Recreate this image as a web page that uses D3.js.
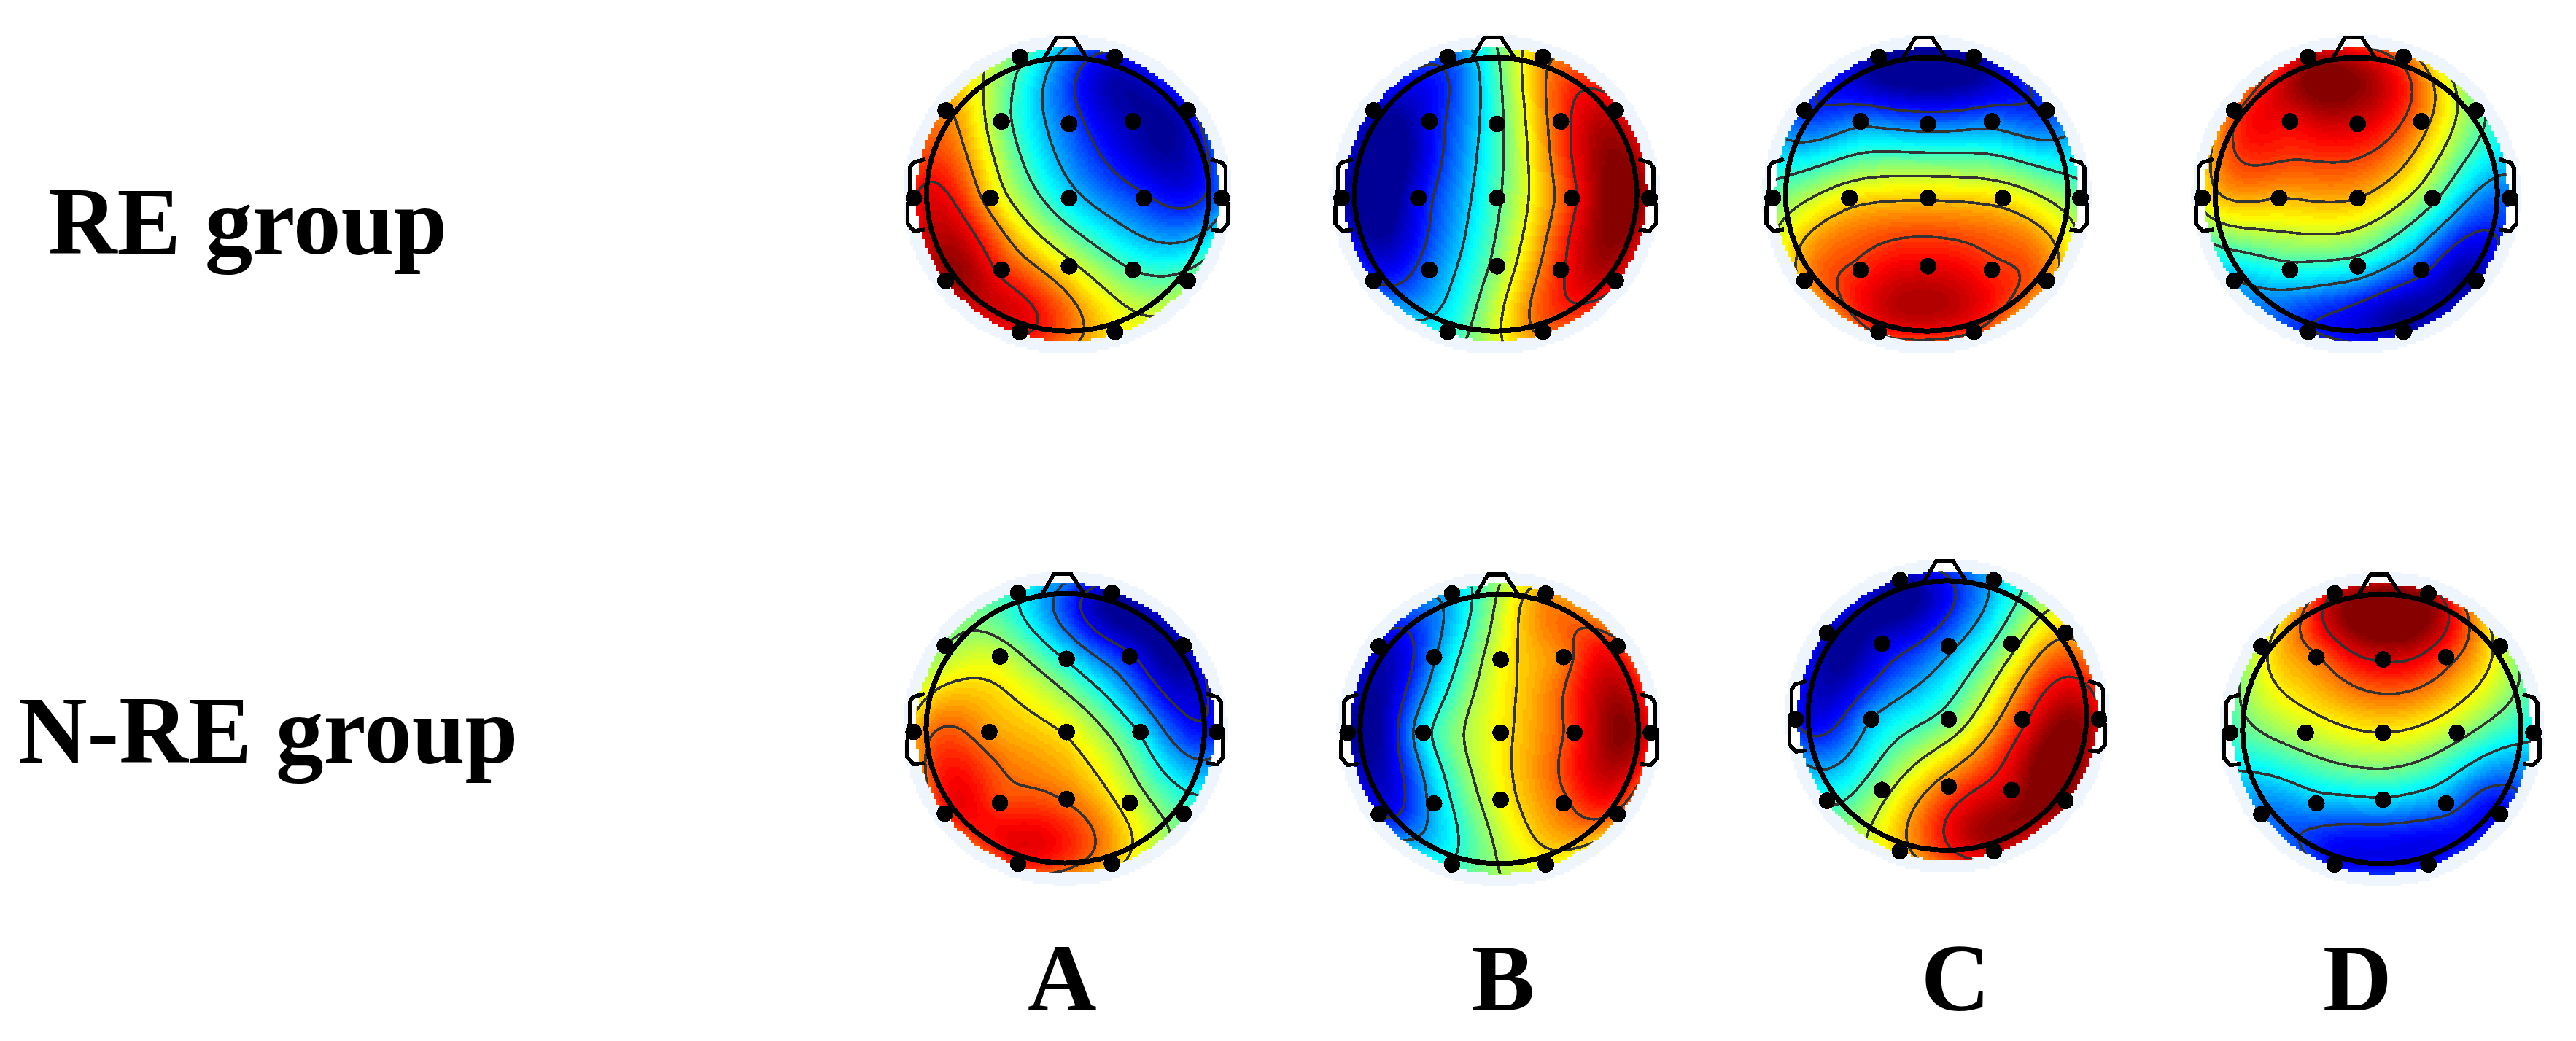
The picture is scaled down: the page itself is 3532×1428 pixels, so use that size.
<!DOCTYPE html>
<html><head><meta charset="utf-8">
<script src="https://cdnjs.cloudflare.com/ajax/libs/d3/7.8.5/d3.min.js"></script>
<style>
html,body{margin:0;padding:0;background:#fff;}
#page{position:relative;width:3532px;height:1428px;overflow:hidden;background:#fff;}
canvas{position:absolute;image-rendering:pixelated;}
svg{position:absolute;left:0;top:0;}
</style></head><body><div id="page"></div>
<script>
// Electrode montage (10-20), in head-ring units
const electrodes = ["Fp1","Fp2","F7","F3","Fz","F4","F8","T3","C3","Cz","C4","T4","T5","P3","Pz","P4","T6","O1","O2"];
const electrodeX = [-.34,.335,-.865,-.469,.01,.462,.85,-1.09,-.547,.01,.54,1.09,-.865,-.469,.01,.462,.85,-.34,.335];
const electrodeY = [-1.005,-1.005,-.614,-.534,-.516,-.534,-.614,.027,.027,.027,.027,.027,.632,.552,.525,.552,.632,1.005,1.005];
// Values at each electrode, read as position on the colour scale (0 = dark blue, 1 = dark red)
const reA  = [.45,.10,.72,.48,.20,.03,.10,.85,.66,.33,.16,.24,.95,.83,.60,.43,.48,.87,.63];
const reB  = [.20,.70,.06,.10,.42,.80,.90,.05,.10,.44,.82,.93,.16,.22,.50,.83,.89,.39,.75];
const reC  = [.02,.02,.16,.24,.22,.23,.17,.46,.63,.66,.63,.46,.70,.82,.88,.82,.72,.82,.80];
const reD  = [.92,.75,.77,.87,.90,.72,.47,.60,.68,.68,.46,.22,.28,.39,.37,.16,.03,.14,.03];
const nreA = [.38,.03,.50,.56,.36,.12,.03,.67,.71,.62,.36,.15,.82,.80,.75,.58,.44,.83,.67];
const nreB = [.30,.70,.07,.25,.60,.74,.82,.03,.34,.62,.82,.86,.12,.30,.60,.76,.76,.40,.60];
const nreC = [.03,.30,.06,.07,.25,.52,.68,.14,.28,.47,.82,.88,.40,.52,.76,.93,.98,.66,.92];
const nreD = [.90,.95,.58,.75,.90,.80,.58,.41,.55,.62,.52,.36,.23,.29,.33,.24,.10,.12,.11];
// Contour levels of each map
const levelsReA  = [.143,.286,.43,.57,.71,.857];
const levelsReB  = [.16,.32,.46,.60,.73,.85];
const levelsReC  = [.14,.27,.41,.55,.67,.80];
const levelsReD  = [.13,.28,.43,.56,.68,.80];
const levelsNreA = [.10,.23,.37,.50,.63,.76];
const levelsNreB = [.13,.26,.39,.52,.65,.78];
const levelsNreC = [.14,.28,.42,.56,.70,.85];
const levelsNreD = [.18,.34,.48,.62,.76,.89];
const groupLabels = ["RE group","N-RE group"];
const columnLabels = ["A","B","C","D"];

const maps = [
 {v:reA, l:levelsReA, cx:1464,  cy:266.7, k:1},
 {v:reB, l:levelsReB, cx:2050.7,cy:266.7, k:1},
 {v:reC, l:levelsReC, cx:2641.7,cy:266.7, k:1},
 {v:reD, l:levelsReD, cx:3230.7,cy:266.7, k:1},
 {v:nreA,l:levelsNreA,cx:1460.7,cy:999.2, k:.986},
 {v:nreB,l:levelsNreB,cx:2055.7,cy:1000,  k:.986},
 {v:nreC,l:levelsNreC,cx:2670,  cy:981.7, k:.986},
 {v:nreD,l:levelsNreD,cx:3265.7,cy:1000,  k:.986}
];
const RX=193.5, RY=187.5, CELL=4, COLOR_R=1.075, HALO_RX=1.163, HALO_RY=1.165;
const HALO="#eef5fc";

const jetScale = d3.scaleLinear()
  .domain([0,.11,.36,.61,.86,1])
  .range(["#00008f","#0000ff","#00ffff","#ffff00","#ff0000","#800000"])
  .interpolate(d3.interpolateRgb).clamp(true);
const jet = d3.scaleQuantize().domain([0,1]).range(d3.range(64).map(i=>jetScale((i+.5)/64)));

const ear = [[-1.012,-.258],[-1.095,-.231],[-1.118,-.196],[-1.118,-.036],[-1.135,.089],[-1.135,.214],[-1.09,.267],[-1.012,.258]];
const earR = ear.map(([x,y])=>[-x,y]);
const nose = [[-.17,-.99],[-.08,-1.148],[.04,-1.148],[.14,-.99]];

function solve(A,b){
  const n=b.length; A=A.map((r,i)=>[...r,b[i]]);
  for(let i=0;i<n;i++){
    let p=i; for(let r=i+1;r<n;r++) if(Math.abs(A[r][i])>Math.abs(A[p][i])) p=r;
    [A[i],A[p]]=[A[p],A[i]];
    for(let r=i+1;r<n;r++){const f=A[r][i]/A[i][i]; for(let c=i;c<=n;c++) A[r][c]-=f*A[i][c];}
  }
  const w=new Array(n);
  for(let i=n-1;i>=0;i--){let s=A[i][n]; for(let c=i+1;c<n;c++) s-=A[i][c]*w[c]; w[i]=s/A[i][i];}
  return w;
}
const green=(d2)=> d2<1e-12?0:d2*(0.5*Math.log(d2)-1);

const page=d3.select("#page");
const svg=page.append("svg").attr("width",3532).attr("height",1428);
const defs=svg.append("defs");

maps.forEach((m,mi)=>{
  const rx=RX*m.k, ry=RY*m.k;
  const x=d3.scaleLinear().domain([-1,1]).range([m.cx-rx,m.cx+rx]);
  const y=d3.scaleLinear().domain([-1,1]).range([m.cy-ry,m.cy+ry]);
  // biharmonic spline through the electrode values
  const n=electrodes.length;
  const A=d3.range(n).map(i=>d3.range(n).map(j=>green((electrodeX[i]-electrodeX[j])**2+(electrodeY[i]-electrodeY[j])**2)));
  const w=solve(A,m.v);
  const field=(u,v)=>{let s=0;for(let i=0;i<n;i++)s+=w[i]*green((u-electrodeX[i])**2+(v-electrodeY[i])**2);return s;};

  const x0=Math.round((m.cx-240)/CELL)*CELL, y0=Math.round((m.cy-240)/CELL)*CELL, G=120;
  const col=d3.scaleLinear().domain([0,G]).range([x0,x0+G*CELL]);
  const row=d3.scaleLinear().domain([0,G]).range([y0,y0+G*CELL]);
  const cv=page.insert("canvas","svg").attr("width",G).attr("height",G)
    .style("left",x0+"px").style("top",y0+"px").style("width",G*CELL+"px").style("height",G*CELL+"px").node();
  const ctx=cv.getContext("2d");
  const grid=new Float64Array(G*G);
  for(let j=0;j<G;j++)for(let i=0;i<G;i++){
    const u=x.invert(col(i+.5)), v=y.invert(row(j+.5));
    const val=field(u,v); grid[j*G+i]=val;
    const rc=Math.hypot(u,v)/COLOR_R, rh=Math.hypot(u/HALO_RX,v/HALO_RY);
    let c=null;
    if(rc<=1) c=jet(Math.max(0,Math.min(1,val)));
    else if(d3.polygonContains(nose,[u,v])||d3.polygonContains(ear,[u,v])||d3.polygonContains(earR,[u,v])) c="#ffffff";
    else if(rh<=1) c=HALO;
    if(c){ctx.fillStyle=c;ctx.fillRect(i,j,1,1);}
  }
  const g=svg.append("g");
  const clipId="clip"+mi;
  defs.append("clipPath").attr("id",clipId).append("ellipse")
    .attr("cx",m.cx).attr("cy",m.cy).attr("rx",rx*COLOR_R).attr("ry",ry*COLOR_R);
  const tf=d3.geoTransform({point(px,py){this.stream.point(col(px),row(py));}});
  const path=d3.geoPath(tf);
  g.append("g").attr("clip-path",`url(#${clipId})`).selectAll("path")
    .data(d3.contours().size([G,G]).thresholds(m.l)(Array.from(grid)))
    .join("path").attr("d",path).attr("fill","none").attr("stroke","#333")
    .attr("stroke-width",3.6).attr("shape-rendering","crispEdges");
  const line=d3.line().x(d=>x(d[0])).y(d=>y(d[1]));
  [ear,earR,nose].forEach(s=>g.append("path").attr("d",line(s)).attr("fill","none")
     .attr("stroke","#000").attr("stroke-width",5.5).attr("shape-rendering","crispEdges"));
  g.append("ellipse").attr("cx",m.cx).attr("cy",m.cy).attr("rx",rx).attr("ry",ry)
    .attr("fill","none").attr("stroke","#000").attr("stroke-width",7).attr("shape-rendering","crispEdges");
  g.selectAll("circle").data(electrodes).join("circle")
    .attr("cx",(d,i)=>x(electrodeX[i])).attr("cy",(d,i)=>y(electrodeY[i]))
    .attr("r",11.5*m.k).attr("fill","#000").attr("shape-rendering","crispEdges");
});

const serif='"Liberation Serif","Times New Roman",serif';
const tg=svg.append("g").attr("font-family",serif).attr("font-weight","bold").attr("font-size",131).attr("fill","#000");
const groupX=[66,25], groupY=[348,1046];
tg.selectAll("text.g").data(groupLabels).join("text").attr("class","g")
  .attr("x",(d,i)=>groupX[i]).attr("y",(d,i)=>groupY[i]).text(d=>d);
const colX=[1409,2017,2634,3185];
tg.selectAll("text.c").data(columnLabels).join("text").attr("class","c")
  .attr("x",(d,i)=>colX[i]).attr("y",1386).text(d=>d);
</script></body></html>
